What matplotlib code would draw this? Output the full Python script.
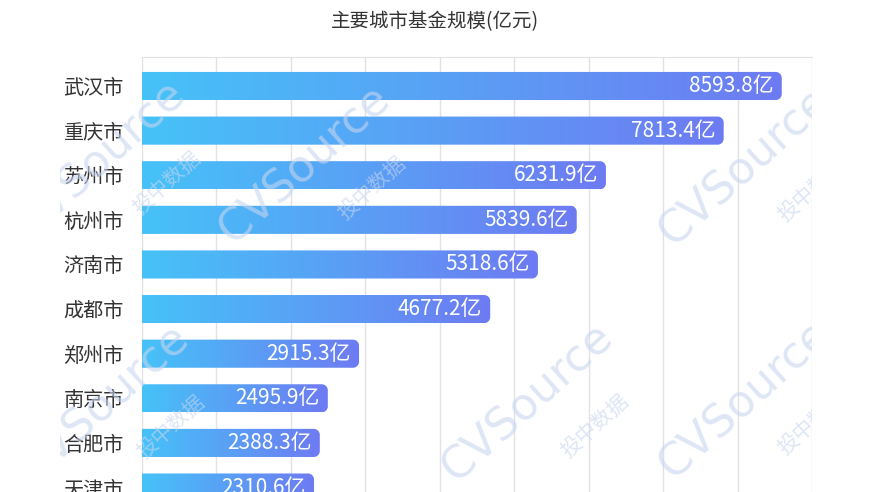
import numpy as np
import matplotlib
matplotlib.use("Agg")
import matplotlib.pyplot as plt
from matplotlib.path import Path
from matplotlib.patches import PathPatch, Rectangle
from matplotlib.colors import to_rgb

plt.rcParams['font.family'] = ['Noto Sans CJK SC', 'DejaVu Sans']

cities = ['武汉市', '重庆市', '苏州市', '杭州市', '济南市',
          '成都市', '郑州市', '南京市', '合肥市', '天津市']
values = [8593.8, 7813.4, 6231.9, 5839.6, 5318.6,
          4677.2, 2915.3, 2495.9, 2388.3, 2310.6]
title = '主要城市基金规模(亿元)'

W, H = 870, 492
DPI = 100


def rounded_right(x1, y0, y1, rx, ry):
    # bar outline with square left end and rounded right corners
    k = 0.5523
    verts = [(0, y0), (x1 - rx, y0),
             (x1 - rx + k * rx, y0), (x1, y0 + ry - k * ry), (x1, y0 + ry),
             (x1, y1 - ry),
             (x1, y1 - ry + k * ry), (x1 - rx + k * rx, y1), (x1 - rx, y1),
             (0, y1), (0, y0)]
    codes = [Path.MOVETO, Path.LINETO,
             Path.CURVE4, Path.CURVE4, Path.CURVE4,
             Path.LINETO,
             Path.CURVE4, Path.CURVE4, Path.CURVE4,
             Path.LINETO, Path.CLOSEPOLY]
    return Path(verts, codes)


def main():
    fig = plt.figure(figsize=(W / DPI, H / DPI), dpi=DPI)
    fig.patch.set_facecolor('white')

    ax_left, ax_right, ax_top = 142 / W, 812 / W, 1 - 57 / H
    ax = fig.add_axes([ax_left, 0, ax_right - ax_left, ax_top])

    xmax = 9000
    ylo, yhi = -0.65, 9.10
    px_per_x = (812 - 142) / xmax
    px_per_y = 44.6
    rx = 6 / px_per_x
    ry = 6 / px_per_y
    h = 0.63

    c0 = np.array(to_rgb('#46C2F8'))
    c1 = np.array(to_rgb('#6E7BF2'))
    t = np.linspace(0, 1, 256)
    grad = (c0[None, :] * (1 - t[:, None]) + c1[None, :] * t[:, None])[None, :, :]

    for i, v in enumerate(values):
        y0, y1 = i - h / 2, i + h / 2
        patch = PathPatch(rounded_right(v, y0, y1, rx, ry), facecolor='none',
                          edgecolor='none')
        ax.add_patch(patch)
        im = ax.imshow(grad, extent=[0, v, y1, y0], aspect='auto',
                       interpolation='bilinear', zorder=2)
        im.set_clip_path(patch)
        ax.annotate(f'{v}亿', xy=(v, i), xytext=(-8, 0), textcoords='offset pixels',
                    ha='right', va='center', color='white', fontsize=15, zorder=3)

    ax.set_xlim(0, xmax)
    ax.set_ylim(yhi, ylo)
    ax.set_aspect('auto')
    ax.set_xticks(np.arange(0, xmax + 1, 1000))
    ax.xaxis.grid(True, color='#e2e2e2', lw=1)
    ax.set_axisbelow(True)
    ax.tick_params(axis='x', length=0, labelbottom=False)
    ax.set_yticks(range(len(cities)))
    ax.set_yticklabels(cities, fontsize=14.5, color='#333333')
    ax.tick_params(axis='y', length=0, pad=13)
    for s in ['left', 'right', 'bottom']:
        ax.spines[s].set_visible(False)
    ax.spines['top'].set_color('#e2e2e2')

    fig.text(0.5, 1 - 22 / H, title, ha='center', va='center',
             fontsize=14, color='#333333')

    # faint watermark, clipped to the chart area
    clip = Rectangle((60 / W, 0), (812 - 60) / W, ax_top,
                     transform=fig.transFigure, facecolor='none', edgecolor='none')
    fig.add_artist(clip)
    marks = [(100, 160), (305, 165), (745, 167), (104, 404), (528, 403), (745, 400)]
    for mx, my in marks:
        t1 = fig.text(mx / W, 1 - my / H, 'CVSource', rotation=42, ha='center',
                      va='center', fontsize=32, family='DejaVu Sans',
                      color='#c8d6f0', alpha=0.6, zorder=5, rotation_mode='anchor')
        t1.set_clip_path(clip)
        t2 = fig.text((mx + 67) / W, 1 - (my + 23) / H, '投中数据', rotation=42,
                      ha='center', va='center', fontsize=15, color='#c8d6f0',
                      alpha=0.6, zorder=5, rotation_mode='anchor')
        t2.set_clip_path(clip)

    fig.savefig('out.png', dpi=DPI)


if __name__ == "__main__":
    main()
